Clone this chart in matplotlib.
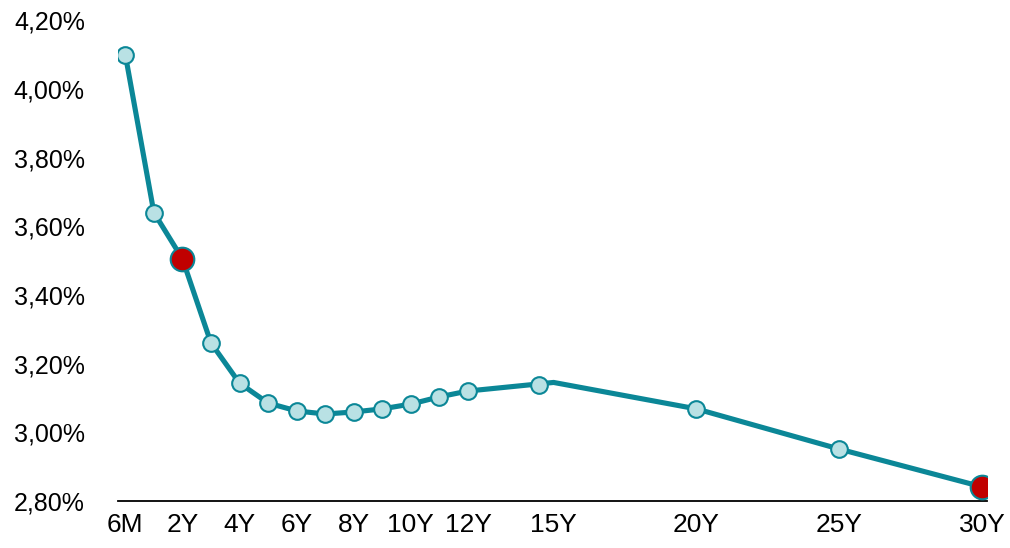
import matplotlib

matplotlib.use("Agg")
import matplotlib.pyplot as plt
from matplotlib.ticker import FuncFormatter

# Yield curve by tenor (position on the axis in years, 6M drawn at 0)
tenor_pos = [0, 1, 2, 3, 4, 5, 6, 7, 8, 9, 10, 11, 12, 14.5, 20, 25, 30]
yields = [4.10, 3.64, 3.505, 3.26, 3.143, 3.085, 3.062, 3.053, 3.059, 3.068,
          3.082, 3.103, 3.12, 3.138, 3.068, 2.951, 2.841]

# The curve itself bends at the 15Y tenor
curve_pos = [0, 1, 2, 3, 4, 5, 6, 7, 8, 9, 10, 11, 12, 15, 20, 25, 30]
curve_yields = [4.10, 3.64, 3.505, 3.26, 3.143, 3.085, 3.062, 3.053, 3.059, 3.068,
                3.082, 3.103, 3.12, 3.145, 3.068, 2.951, 2.841]

highlight = [2, 30]  # 2Y and 30Y

tick_pos = [0, 2, 4, 6, 8, 10, 12, 15, 20, 25, 30]
tick_labels = ["6M", "2Y", "4Y", "6Y", "8Y", "10Y", "12Y", "15Y", "20Y", "25Y", "30Y"]
y_ticks = [2.8, 3.0, 3.2, 3.4, 3.6, 3.8, 4.0, 4.2]

teal = "#0b8797"
plt.rcParams["font.family"] = ["Liberation Sans", "DejaVu Sans"]

fig, ax = plt.subplots(figsize=(10.1, 5.48), dpi=100)
fig.subplots_adjust(left=0.117, right=0.977, top=0.963, bottom=0.086)

ax.plot(curve_pos, curve_yields, color=teal, linewidth=3.7, zorder=2)
for x, y in zip(tenor_pos, yields):
    if x in highlight:
        ax.plot(x, y, "o", ms=17, mfc="#c00000", mec=teal, mew=1.5, zorder=3)
    else:
        ax.plot(x, y, "o", ms=12, mfc="#b9e1e4", mec=teal, mew=1.5, zorder=3)

ax.set_xlim(-0.25, 30.17)
ax.set_ylim(2.8, 4.2)
ax.set_xticks(tick_pos)
ax.set_xticklabels(tick_labels, fontsize=19)
ax.set_yticks(y_ticks)
ax.yaxis.set_major_formatter(FuncFormatter(lambda v, _: f"{v:.2f}%".replace(".", ",")))
ax.tick_params(axis="both", length=0, colors="black")
ax.tick_params(axis="y", labelsize=18, pad=24)
ax.tick_params(axis="x", pad=9)

for side in ["top", "right", "left"]:
    ax.spines[side].set_visible(False)
ax.spines["bottom"].set_linewidth(1.3)
ax.spines["bottom"].set_color("black")
ax.spines["bottom"].set_zorder(1)

fig.savefig("out.png", dpi=100)
plt.close(fig)
